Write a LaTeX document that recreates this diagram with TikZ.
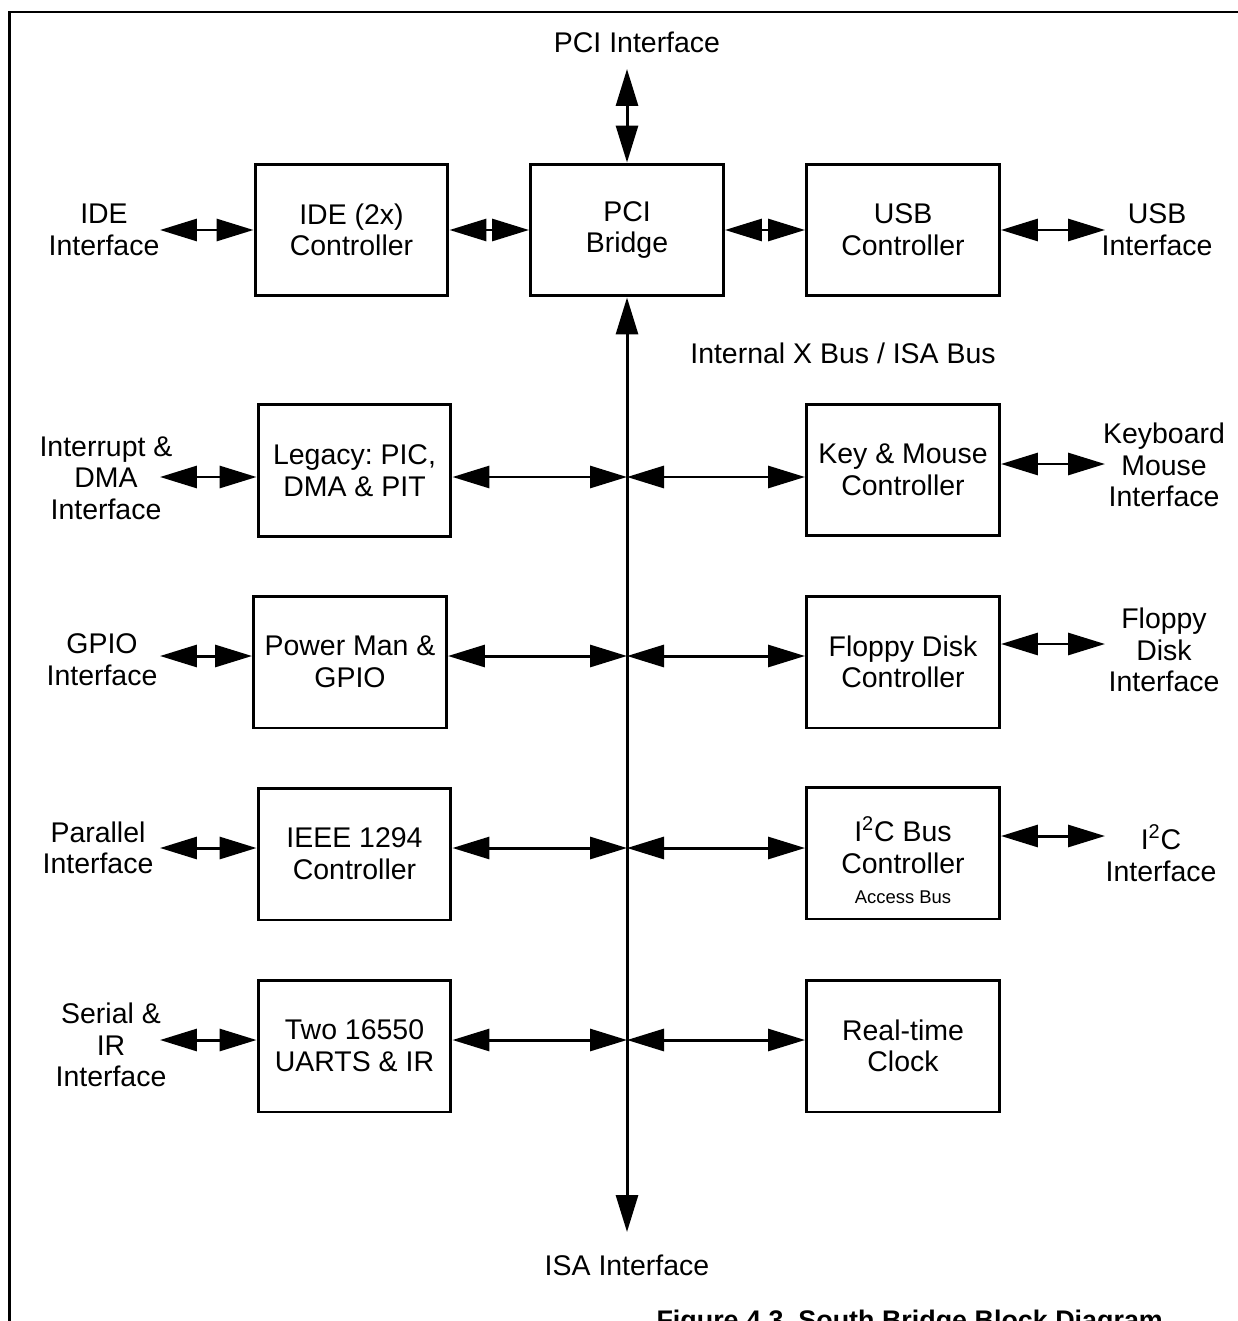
\documentclass[tikz,border=0pt]{standalone}
\usepackage{fontspec}
\setmainfont{Liberation Sans}
\usetikzlibrary{arrows.meta}
\begin{document}
\begin{tikzpicture}[x=0.02cm,y=-0.02cm,line width=1.7pt,
    >={Triangle[length=0.74cm,width=0.44cm]},
    font=\fontsize{16.2}{18}\selectfont,
    blk/.style={draw,minimum width=3.86cm,minimum height=2.64cm,align=center,inner sep=0pt},
    lbl/.style={align=center,inner sep=0pt},
    dbl/.style={<->}]
    \useasboundingbox (0,0) rectangle (1237,1321);
    \draw (9.5,1335)|-(1250,12);
    % blocks
    \node[blk] (ide) at (351.5,230) {IDE (2x)\\Controller};
    \node[blk] (pci) at (627,230) {PCI\\Bridge};
    \node[blk] (usb) at (903,230) {USB\\Controller};
    \node[blk] (leg) at (354.5,470.5) {Legacy:\ PIC,\\DMA \& PIT};
    \node[blk] (key) at (903,470) {Key \& Mouse\\Controller};
    \node[blk] (pwr) at (350,662) {Power Man \&\\GPIO};
    \node[blk] (fdc) at (903,662) {Floppy Disk\\Controller};
    \node[blk] (ieee) at (354.5,854) {IEEE 1294\\Controller};
    \node[blk] (i2c) at (903,853) {I\textsuperscript{2}C Bus\\Controller\\[-9pt]};
    \node[blk] (rtc) at (903,1046) {Real-time\\Clock};
    \node[blk] (uart) at (354.5,1046) {Two 16550\\UARTS \& IR};
    \node[inner sep=0pt,font=\fontsize{10.5}{12}\selectfont] (acc) at (903,897) {Access Bus};
    % labels
    \node[lbl] (pcilbl) at (637,42) {PCI Interface};
    \node[lbl] (isalbl) at (627,1265) {ISA Interface};
    \node[lbl] (buslbl) at (843,353) {Internal X Bus / ISA Bus};
    \node[lbl] (idelbl) at (104,230) {IDE\\Interface};
    \node[lbl] (usblbl) at (1157,230) {USB\\Interface};
    \node[lbl] (intlbl) at (106,478) {Interrupt \&\\DMA\\Interface};
    \node[lbl] (kbdlbl) at (1164,465) {Keyboard\\Mouse\\Interface};
    \node[lbl] (gpiolbl) at (102,660) {GPIO\\Interface};
    \node[lbl] (fdclbl) at (1164,650) {Floppy\\Disk\\Interface};
    \node[lbl] (parlbl) at (98,848) {Parallel\\Interface};
    \node[lbl] (i2clbl) at (1161,853) {I\textsuperscript{2}C\\Interface};
    \node[lbl] (serlbl) at (111,1045) {Serial \&\\IR\\Interface};
    \node[anchor=base west,inner sep=0pt,font=\bfseries\fontsize{15.3}{18}\selectfont] (cap) at (655,1329) {Figure 4.3\ \ South Bridge Block Diagram};
    % free ends
    \coordinate (pcitop) at (627,69);
    \coordinate (isaend) at (627,1232);
    \coordinate (ideL) at (160,230);
    \coordinate (usbR) at (1105,230);
    \coordinate (intL) at (160,477);
    \coordinate (kbdR) at (1105,464);
    \coordinate (gpioL) at (160,656);
    \coordinate (fdcR) at (1105,644);
    \coordinate (parL) at (160,848);
    \coordinate (i2cR) at (1105,836);
    \coordinate (serL) at (160,1040);
    % bus taps
    \coordinate (b2) at (627,477);
    \coordinate (b3) at (627,656);
    \coordinate (b4) at (627,848);
    \coordinate (b5) at (627,1040);
    % connectors
    \draw[dbl] (pcitop)--(pci.north);
    \draw[dbl] (pci.south)--(isaend);
    \draw[dbl] (ideL)--(ide.west);
    \draw[dbl] (ide.east)--(pci.west);
    \draw[dbl] (pci.east)--(usb.west);
    \draw[dbl] (usb.east)--(usbR);
    \draw[dbl] (intL)--(leg.west|-intL);
    \draw[dbl] (gpioL)--(pwr.west|-gpioL);
    \draw[dbl] (parL)--(ieee.west|-parL);
    \draw[dbl] (serL)--(uart.west|-serL);
    \draw[dbl] (leg.east|-b2)--(b2);
    \draw[dbl] (pwr.east|-b3)--(b3);
    \draw[dbl] (ieee.east|-b4)--(b4);
    \draw[dbl] (uart.east|-b5)--(b5);
    \draw[dbl] (b2)--(key.west|-b2);
    \draw[dbl] (b3)--(fdc.west|-b3);
    \draw[dbl] (b4)--(i2c.west|-b4);
    \draw[dbl] (b5)--(rtc.west|-b5);
    \draw[dbl] (key.east|-kbdR)--(kbdR);
    \draw[dbl] (fdc.east|-fdcR)--(fdcR);
    \draw[dbl] (i2c.east|-i2cR)--(i2cR);
\end{tikzpicture}
\end{document}
